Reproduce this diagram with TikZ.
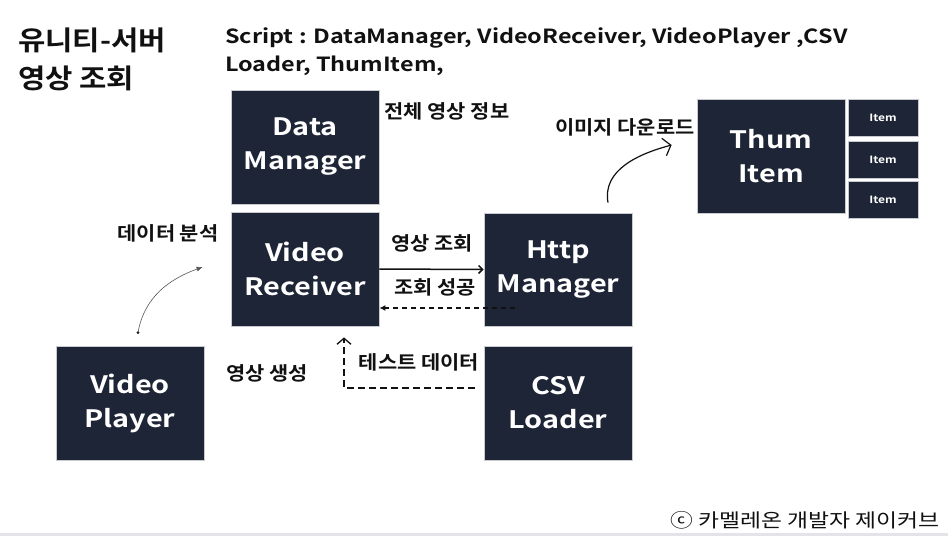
\documentclass[tikz,border=0pt]{standalone}
\usepackage{fontspec}
\setmainfont{Noto Sans CJK KR}[BoldFont={Noto Sans CJK KR Bold}]
\newfontfamily\widefont{Noto Sans CJK KR}[FakeStretch=1.2, BoldFont={Noto Sans CJK KR Bold}]
\newfontfamily\midfont{Noto Sans CJK KR}[FakeStretch=1.1, BoldFont={Noto Sans CJK KR Bold}]
\usetikzlibrary{arrows.meta}
\definecolor{ink}{HTML}{111111}
\definecolor{panel}{HTML}{1E2536}
\definecolor{edge}{HTML}{C8CAD0}
\definecolor{muted}{HTML}{555555}
\definecolor{strip}{HTML}{E4E3E9}
\tikzset{
  module/.style={draw=edge, line width=0.8pt, fill=panel, text=white, align=center,
    minimum width=148pt, minimum height=114pt, inner sep=0pt,
    font=\widefont\bfseries\fontsize{24}{34}\selectfont},
  itembox/.style={module, minimum width=70pt, minimum height=37pt,
    font=\widefont\bfseries\fontsize{10}{12}\selectfont},
  note/.style={text=ink, inner sep=0pt, font=\midfont\bfseries\fontsize{19}{22}\selectfont},
  headline/.style={anchor=west, text=ink, inner sep=0pt, font=\midfont\bfseries\fontsize{27}{30}\selectfont},
  scriptline/.style={anchor=west, text=ink, inner sep=0pt, font=\widefont\bfseries\fontsize{19.5}{24}\selectfont},
  arrow/.style={-{Straight Barb[length=4pt,width=8pt]}, draw=ink, line width=1.5pt},
  dasharrow/.style={-{Latex[length=6pt,width=6pt]}, draw=ink, line width=1.3pt, dash pattern=on 5pt off 4pt},
  openarrow/.style={-{Straight Barb[length=6pt,width=14pt]}, draw=ink, line width=1.3pt, dash pattern=on 7pt off 4pt},
  thinarrow/.style={-{Latex[length=6pt,width=5pt]}, draw=muted, line width=0.6pt},
  sketcharrow/.style={-{Straight Barb[length=7pt,width=18pt]}, draw=ink, line width=1.2pt}
}

\begin{document}
\begin{tikzpicture}[x=1pt,y=-1pt]
  \useasboundingbox (0,0) rectangle (948,536);
  \fill[white] (0,0) rectangle (948,536);
  \fill[strip] (0,533) rectangle (948,536);

  % Title and script list.
  \node[headline] (titleA) at (18,40) {유니티-서버};
  \node[headline] (titleB) at (18,78) {영상 조회};
  \node[scriptline] (scriptA) at (225,38) {Script : DataManager, VideoReceiver, VideoPlayer ,CSV};
  \node[scriptline] (scriptB) at (225,66) {Loader, ThumItem,};

  % Modules.
  \node[module] (dataMgr) at (305,147) {Data\\Manager};
  \node[module] (videoRecv) at (305,269) {Video\\Receiver};
  \node[module, minimum height=113pt] (httpMgr) at (558,269.5) {Http\\Manager};
  \node[module] (csvLoader) at (558,403) {CSV\\Loader};
  \node[module] (videoPlayer) at (130,403) {Video\\Player};
  \node[module] (thumItem) at (771,156) {Thum\\Item};
  \node[itembox] (itemA) at (883,118) {Item};
  \node[itembox] (itemB) at (883,159.5) {Item};
  \node[itembox] (itemC) at (883,199.5) {Item};

  % Labels.
  \node[note] (infoLbl) at (447,111) {전체 영상 정보};
  \node[note] (downLbl) at (625,127) {이미지 다운로드};
  \node[note] (parseLbl) at (168,233) {데이터 분석};
  \node[note] (queryLbl) at (432,243) {영상 조회};
  \node[note] (okLbl) at (435,287) {조회 성공};
  \node[note] (testLbl) at (419,362) {테스트 데이터};
  \node[note] (makeLbl) at (267,373) {영상 생성};

  % Connectors.
  \draw[arrow] (videoRecv.east) -- (httpMgr.west);
  \draw[dasharrow] ([xshift=31pt,yshift=-38.5pt]httpMgr.west) -- ([yshift=-39pt]videoRecv.east);
  \draw[openarrow] ([xshift=-9pt,yshift=15pt]csvLoader.west) -| ([xshift=39pt,yshift=-11pt]videoRecv.south);

  \coordinate (playStart) at ([xshift=8pt,yshift=13pt]videoPlayer.north);
  \fill[ink] (playStart) circle (1.6pt);
  \draw[thinarrow] (playStart) to[out=80,in=200] ([xshift=-28pt,yshift=2pt]videoRecv.west);

  \coordinate (downStart) at ([xshift=50pt,yshift=10pt]httpMgr.north);
  \draw[sketcharrow] (downStart) to[out=100,in=195] ([xshift=-25pt,yshift=11pt]thumItem.west);

  \node[text=ink, inner sep=0pt, font=\widefont\fontsize{19}{22}\selectfont] (credit) at (805,520) {ⓒ 카멜레온 개발자 제이커브};
\end{tikzpicture}
\end{document}
